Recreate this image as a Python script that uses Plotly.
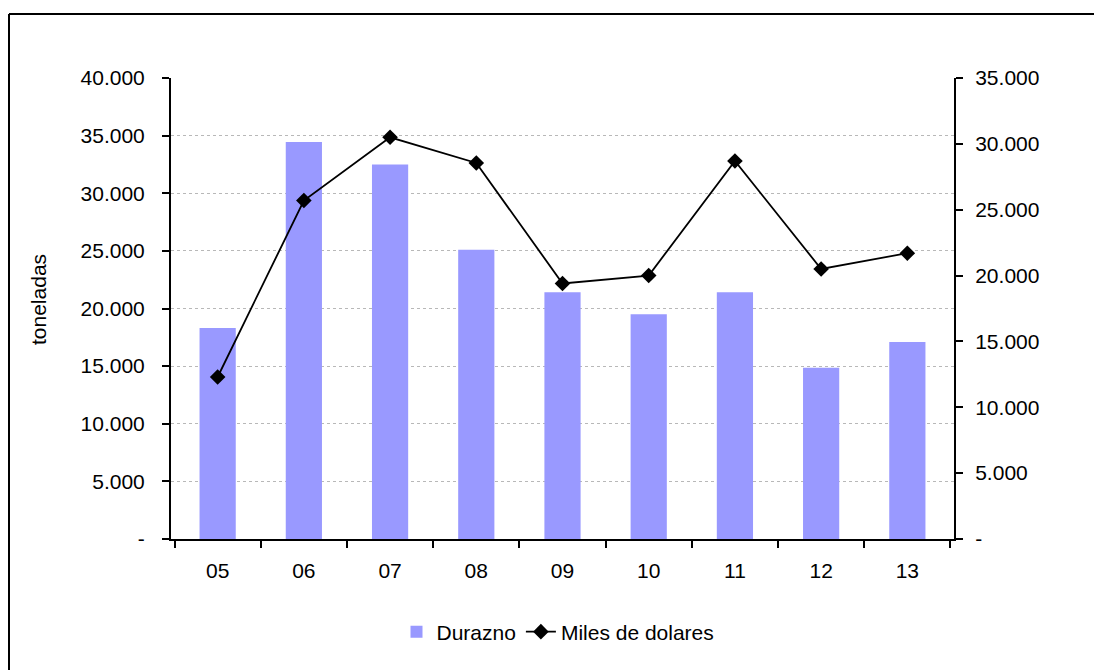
import plotly.graph_objects as go

years = ["05", "06", "07", "08", "09", "10", "11", "12", "13"]
durazno_ton = [18300, 34450, 32500, 25100, 21400, 19500, 21400, 14850, 17100]
miles_usd = [12300, 25700, 30500, 28550, 19400, 20000, 28700, 20500, 21700]

left_ticks = [0, 5000, 10000, 15000, 20000, 25000, 30000, 35000, 40000]
left_text = ["-", "5.000", "10.000", "15.000", "20.000", "25.000", "30.000", "35.000", "40.000"]
right_ticks = [0, 5000, 10000, 15000, 20000, 25000, 30000, 35000]
right_text = ["-", "5.000", "10.000", "15.000", "20.000", "25.000", "30.000", "35.000"]

FONT = "Liberation Sans, Arial, sans-serif"
FS = 21

fig = go.Figure()
fig.add_trace(go.Bar(
    x=years, y=durazno_ton, name="Durazno",
    marker=dict(color="#9999FF", line=dict(width=0)),
    yaxis="y",
))
fig.add_trace(go.Scatter(
    x=years, y=miles_usd, name="Miles de dolares",
    mode="lines+markers",
    line=dict(color="black", width=1.8),
    marker=dict(symbol="diamond", size=12, color="black"),
    yaxis="y2",
))

W, H = 1094, 670
L, R, T, B = 171, 954, 78, 539

def px_x(p):
    return (p - L) / (R - L)

def px_y(p):
    return (B - p) / (B - T)

fig.update_layout(
    width=W, height=H,
    margin=dict(l=L, r=W - R, t=T, b=H - B),
    paper_bgcolor="white", plot_bgcolor="white",
    font=dict(family=FONT, size=FS, color="black"),
    bargap=0.58,
    showlegend=True,
    legend=dict(orientation="h", x=px_x(558), xanchor="center",
                y=px_y(632), yanchor="middle",
                font=dict(size=FS), traceorder="normal"),
    xaxis=dict(
        type="category", showline=True, linecolor="black", linewidth=2,
        ticks="outside", ticklen=7, tickwidth=1.5, tickcolor="black",
        tickson="boundaries", showgrid=False, zeroline=False,
        tickfont=dict(size=FS), ticklabelstandoff=12,
    ),
    yaxis=dict(
        range=[0, 40000], tickvals=left_ticks, ticktext=left_text,
        showline=True, linecolor="black", linewidth=2,
        ticks="outside", ticklen=7, tickwidth=1.5, tickcolor="black",
        showgrid=True, gridcolor="#b8b8b8", gridwidth=1, griddash="dot",
        zeroline=False, tickfont=dict(size=FS), ticklabelstandoff=13,
    ),
    yaxis2=dict(
        range=[0, 35000], tickvals=right_ticks, ticktext=right_text,
        overlaying="y", side="right",
        showline=True, linecolor="black", linewidth=2,
        ticks="outside", ticklen=7, tickwidth=1.5, tickcolor="black",
        showgrid=False, zeroline=False, tickfont=dict(size=FS),
        ticklabelstandoff=8,
    ),
    annotations=[dict(
        text="toneladas", textangle=-90, xref="paper", yref="paper",
        x=px_x(38), y=px_y(300), xanchor="center", yanchor="middle",
        showarrow=False, font=dict(size=FS),
    )],
    shapes=[
        dict(type="line", xref="paper", yref="paper",
             x0=px_x(9), x1=px_x(1094), y0=px_y(14), y1=px_y(14),
             line=dict(color="black", width=2)),
        dict(type="line", xref="paper", yref="paper",
             x0=px_x(9), x1=px_x(9), y0=px_y(14), y1=px_y(670),
             line=dict(color="black", width=2)),
    ],
)

fig.write_html(
    "out.html",
    config={"displayModeBar": False},
    post_script=(
        "document.body.style.margin='0';"
        "document.body.style.overflow='hidden';"
        "document.documentElement.style.overflow='hidden';"
    ),
)
